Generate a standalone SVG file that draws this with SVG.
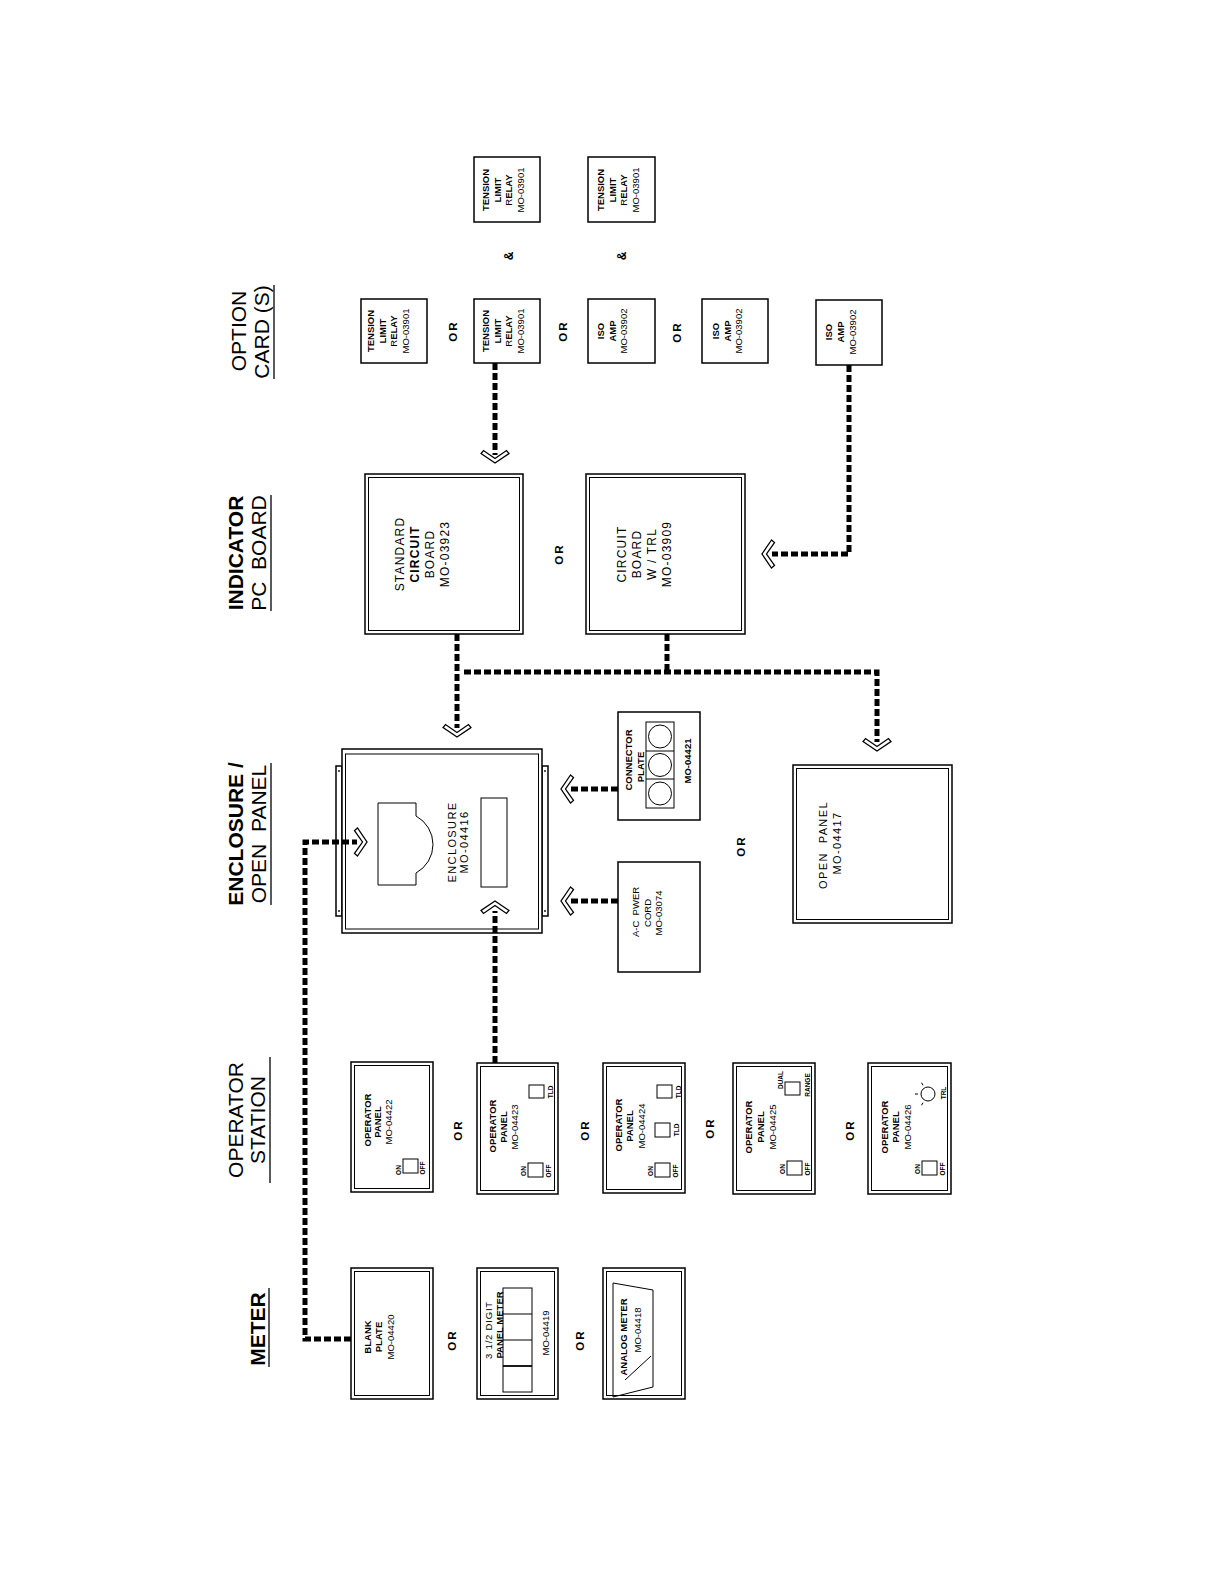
<svg xmlns="http://www.w3.org/2000/svg" width="1225" height="1585" viewBox="0 0 1225 1585">
<defs>
<style>
text{font-family:"Liberation Sans",Arial,sans-serif;fill:#000;text-anchor:middle;dominant-baseline:central}
.b{fill:#fff;stroke:#000;stroke-width:1.5}
.i{fill:none;stroke:#000;stroke-width:1}
.s{fill:#fff;stroke:#000;stroke-width:1}
.d{fill:none;stroke:#000;stroke-width:5;stroke-dasharray:7 3}
.ch{fill:#fff;stroke:#000;stroke-width:1.3;stroke-linejoin:miter}
.h{font-size:21px}
.hb{font-size:21px;font-weight:bold}
.c{font-size:9.5px}
.cb{font-size:9.5px;font-weight:bold}
.m{font-size:12px;letter-spacing:1.2px}
.e{font-size:11px;letter-spacing:1.4px}
.or{font-size:11.5px;font-weight:bold;letter-spacing:2px}
.amp{font-size:12px;font-weight:bold}
.sw{font-size:6.5px;font-weight:bold}
.ul{stroke:#000;stroke-width:1.3}
</style>
<path id="chev" d="M-14,-9.5 L0,0 L14,-9.5 L11.5,-12.5 L0,-4.5 L-11.5,-12.5 Z"/>
</defs>
<rect width="1225" height="1585" fill="#fff"/>

<g id="headers">
<text class="h" transform="translate(238,331) rotate(-90)">OPTION</text>
<text class="h" transform="translate(261,332) rotate(-90)">CARD (S)</text>
<line class="ul" x1="274" y1="285" x2="274" y2="379"/>
<text class="hb" transform="translate(235,553) rotate(-90)">INDICATOR</text>
<text class="h" transform="translate(258,553) rotate(-90)" xml:space="preserve">PC  BOARD</text>
<line class="ul" x1="271" y1="495" x2="271" y2="611"/>
<text class="hb" transform="translate(235,834) rotate(-90)">ENCLOSURE /</text>
<text class="h" transform="translate(258,834) rotate(-90)" xml:space="preserve">OPEN  PANEL</text>
<line class="ul" x1="271" y1="763" x2="271" y2="905"/>
<text class="h" transform="translate(235,1120) rotate(-90)">OPERATOR</text>
<text class="h" transform="translate(257,1120) rotate(-90)">STATION</text>
<line class="ul" x1="270" y1="1057" x2="270" y2="1183"/>
<text class="hb" transform="translate(257,1329) rotate(-90)">METER</text>
<line class="ul" x1="269" y1="1288" x2="269" y2="1367"/>
</g>

<g id="or-labels">
<text class="or" transform="translate(453,331) rotate(-90)">OR</text>
<text class="or" transform="translate(563,331) rotate(-90)">OR</text>
<text class="or" transform="translate(677,332) rotate(-90)">OR</text>
<text class="amp" transform="translate(509,256) rotate(-90)">&amp;</text>
<text class="amp" transform="translate(622,256) rotate(-90)">&amp;</text>
<text class="or" transform="translate(559,554) rotate(-90)">OR</text>
<text class="or" transform="translate(741,846) rotate(-90)">OR</text>
<text class="or" transform="translate(458,1130) rotate(-90)">OR</text>
<text class="or" transform="translate(585,1130) rotate(-90)">OR</text>
<text class="or" transform="translate(710,1128) rotate(-90)">OR</text>
<text class="or" transform="translate(850,1130) rotate(-90)">OR</text>
<text class="or" transform="translate(452,1340) rotate(-90)">OR</text>
<text class="or" transform="translate(580,1340) rotate(-90)">OR</text>
</g>

<g id="tlr-a">
<rect class="b" x="361" y="299" width="66" height="64"/>
<text class="cb" transform="translate(370,331) rotate(-90)">TENSION</text>
<text class="cb" transform="translate(382,331) rotate(-90)">LIMIT</text>
<text class="c" transform="translate(393,331) rotate(-90)">R<tspan font-weight="bold">ELAY</tspan></text>
<text class="c" transform="translate(405,331) rotate(-90)">MO-03901</text>
</g>
<g id="tlr-b">
<rect class="b" x="474" y="157" width="66" height="65"/>
<text class="cb" transform="translate(485,190) rotate(-90)">TENSION</text>
<text class="cb" transform="translate(497,190) rotate(-90)">LIMIT</text>
<text class="c" transform="translate(508,190) rotate(-90)">R<tspan font-weight="bold">ELAY</tspan></text>
<text class="c" transform="translate(520,190) rotate(-90)">MO-03901</text>
</g>
<g id="tlr-c">
<rect class="b" x="474" y="299" width="66" height="64"/>
<text class="cb" transform="translate(485,331) rotate(-90)">TENSION</text>
<text class="cb" transform="translate(497,331) rotate(-90)">LIMIT</text>
<text class="c" transform="translate(508,331) rotate(-90)">R<tspan font-weight="bold">ELAY</tspan></text>
<text class="c" transform="translate(520,331) rotate(-90)">MO-03901</text>
</g>
<g id="iso-d">
<rect class="b" x="588" y="299" width="67" height="64"/>
<text class="cb" transform="translate(600,331) rotate(-90)">ISO</text>
<text class="cb" transform="translate(612,331) rotate(-90)">AMP</text>
<text class="c" transform="translate(623,331) rotate(-90)">MO-03902</text>
</g>
<g id="tlr-e">
<rect class="b" x="588" y="157" width="67" height="65"/>
<text class="cb" transform="translate(600,190) rotate(-90)">TENSION</text>
<text class="cb" transform="translate(612,190) rotate(-90)">LIMIT</text>
<text class="c" transform="translate(623,190) rotate(-90)">R<tspan font-weight="bold">ELAY</tspan></text>
<text class="c" transform="translate(635,190) rotate(-90)">MO-03901</text>
</g>
<g id="iso-f">
<rect class="b" x="702" y="299" width="66" height="64"/>
<text class="cb" transform="translate(715,331) rotate(-90)">ISO</text>
<text class="cb" transform="translate(727,331) rotate(-90)">AMP</text>
<text class="c" transform="translate(738,331) rotate(-90)">MO-03902</text>
</g>
<g id="iso-g">
<rect class="b" x="816" y="300" width="66" height="65"/>
<text class="cb" transform="translate(828,332) rotate(-90)">ISO</text>
<text class="cb" transform="translate(840,332) rotate(-90)">AMP</text>
<text class="c" transform="translate(852,332) rotate(-90)">MO-03902</text>
</g>

<g id="std-board">
<rect class="b" x="365" y="474" width="158" height="160"/>
<rect class="i" x="368.5" y="477.5" width="151" height="153"/>
<text class="m" transform="translate(400,554) rotate(-90)">STANDARD</text>
<text class="m" transform="translate(415,554) rotate(-90)" font-weight="bold">CIRCUIT</text>
<text class="m" transform="translate(430,554) rotate(-90)">BOARD</text>
<text class="m" transform="translate(445,554) rotate(-90)">MO-03923</text>
</g>
<g id="trl-board">
<rect class="b" x="586" y="474" width="159" height="160"/>
<rect class="i" x="589.5" y="477.5" width="152" height="153"/>
<text class="m" transform="translate(622,554) rotate(-90)">CIRCUIT</text>
<text class="m" transform="translate(637,554) rotate(-90)">BOARD</text>
<text class="m" transform="translate(652,554) rotate(-90)">W / TRL</text>
<text class="m" transform="translate(667,554) rotate(-90)">MO-03909</text>
</g>

<g id="enclosure">
<rect class="b" x="336" y="766" width="6" height="150"/>
<rect class="b" x="542" y="766" width="6" height="150"/>
<circle cx="339" cy="771" r="0.9"/><circle cx="339" cy="911" r="0.9"/>
<circle cx="545" cy="771" r="0.9"/><circle cx="545" cy="911" r="0.9"/>
<rect class="b" x="342" y="749" width="200" height="184"/>
<rect class="i" x="345.5" y="754" width="193" height="175"/>
<path class="i" d="M378,803 H416 V816 A32.4,32.4 0 0 1 416,873 V885 H378 Z"/>
<rect class="i" x="481" y="798" width="26" height="89"/>
<text class="e" transform="translate(452,842) rotate(-90)">ENCLOSURE</text>
<text class="e" transform="translate(464,842) rotate(-90)">MO-04416</text>
</g>

<g id="connector-plate">
<rect class="b" x="618" y="712" width="82" height="108"/>
<rect class="i" x="646" y="722" width="28" height="86"/>
<line class="i" x1="646" y1="751" x2="674" y2="751"/>
<line class="i" x1="646" y1="779" x2="674" y2="779"/>
<circle class="i" cx="660" cy="736.5" r="11.5"/>
<circle class="i" cx="660" cy="765" r="11.5"/>
<circle class="i" cx="660" cy="793.5" r="11.5"/>
<text class="cb" transform="translate(628,760) rotate(-90)" font-size="8.5">CONNECTOR</text>
<text class="cb" transform="translate(640,767) rotate(-90)" font-size="8.5">PLATE</text>
<text class="cb" transform="translate(687,761) rotate(-90)" font-size="8.5">MO-04421</text>
</g>

<g id="ac-cord">
<rect class="b" x="618" y="862" width="82" height="110"/>
<text class="c" transform="translate(635,912) rotate(-90)" xml:space="preserve">A-C  PWER</text>
<text class="c" transform="translate(647,913) rotate(-90)">CORD</text>
<text class="c" transform="translate(658,913) rotate(-90)">MO-03074</text>
</g>

<g id="open-panel">
<rect class="b" x="793" y="765" width="159" height="158"/>
<rect class="i" x="796.5" y="768.5" width="152" height="151"/>
<text class="e" transform="translate(823,845) rotate(-90)" xml:space="preserve">OPEN  PANEL</text>
<text class="e" transform="translate(837,843) rotate(-90)">MO-04417</text>
</g>

<g id="op-04422">
<rect class="b" x="351" y="1062" width="82" height="130"/>
<rect class="i" x="354.5" y="1065.5" width="75" height="123"/>
<text class="cb" transform="translate(367,1120) rotate(-90)">OPERATOR</text>
<text class="cb" transform="translate(377,1122) rotate(-90)">PANEL</text>
<text class="c" transform="translate(388,1122) rotate(-90)">MO-04422</text>
<rect class="s" x="403" y="1159" width="15" height="14"/>
<text class="sw" transform="translate(398,1170) rotate(-90)">ON</text>
<text class="sw" transform="translate(422,1168) rotate(-90)">OFF</text>
</g>
<g id="op-04423">
<rect class="b" x="477" y="1063" width="81" height="131"/>
<rect class="i" x="480.5" y="1066.5" width="74" height="124"/>
<text class="cb" transform="translate(492,1126) rotate(-90)">OPERATOR</text>
<text class="cb" transform="translate(503,1127) rotate(-90)">PANEL</text>
<text class="c" transform="translate(514,1127) rotate(-90)">MO-04423</text>
<rect class="s" x="528" y="1163" width="15" height="14"/>
<text class="sw" transform="translate(523,1171) rotate(-90)">ON</text>
<text class="sw" transform="translate(548,1171) rotate(-90)">OFF</text>
<rect class="s" x="529" y="1085" width="15" height="13"/>
<text class="sw" transform="translate(550,1092) rotate(-90)">TLD</text>
</g>
<g id="op-04424">
<rect class="b" x="603" y="1063" width="82" height="130"/>
<rect class="i" x="606.5" y="1066.5" width="75" height="123"/>
<text class="cb" transform="translate(618,1125) rotate(-90)">OPERATOR</text>
<text class="cb" transform="translate(629,1126) rotate(-90)">PANEL</text>
<text class="c" transform="translate(641,1126) rotate(-90)">MO-04424</text>
<rect class="s" x="655" y="1163" width="15" height="14"/>
<text class="sw" transform="translate(650,1171) rotate(-90)">ON</text>
<text class="sw" transform="translate(675,1171) rotate(-90)">OFF</text>
<rect class="s" x="655" y="1123" width="15" height="14"/>
<text class="sw" transform="translate(676,1130) rotate(-90)">TLD</text>
<rect class="s" x="657" y="1085" width="15" height="13"/>
<text class="sw" transform="translate(678,1092) rotate(-90)">TLD</text>
</g>
<g id="op-04425">
<rect class="b" x="733" y="1063" width="82" height="131"/>
<rect class="i" x="736.5" y="1066.5" width="75" height="124"/>
<text class="cb" transform="translate(748,1127) rotate(-90)">OPERATOR</text>
<text class="cb" transform="translate(760,1127) rotate(-90)">PANEL</text>
<text class="c" transform="translate(772,1127) rotate(-90)">MO-04425</text>
<rect class="s" x="787" y="1161" width="15" height="14"/>
<text class="sw" transform="translate(782,1169) rotate(-90)">ON</text>
<text class="sw" transform="translate(807,1169) rotate(-90)">OFF</text>
<rect class="s" x="785" y="1082" width="15" height="13"/>
<text class="sw" transform="translate(780,1080) rotate(-90)">DUAL</text>
<text class="sw" transform="translate(807,1085) rotate(-90)">RANGE</text>
</g>
<g id="op-04426">
<rect class="b" x="868" y="1063" width="83" height="131"/>
<rect class="i" x="871.5" y="1066.5" width="76" height="124"/>
<text class="cb" transform="translate(884,1127) rotate(-90)">OPERATOR</text>
<text class="cb" transform="translate(895,1127) rotate(-90)">PANEL</text>
<text class="c" transform="translate(907,1127) rotate(-90)">MO-04426</text>
<rect class="s" x="922" y="1161" width="15" height="14"/>
<text class="sw" transform="translate(917,1169) rotate(-90)">ON</text>
<text class="sw" transform="translate(942,1169) rotate(-90)">OFF</text>
<circle class="i" cx="928" cy="1094" r="7"/>
<path class="i" d="M918,1094 H915 M923,1085.3 L921.5,1082.7 M923,1102.7 L921.5,1105.3"/>
<text class="sw" transform="translate(943,1093) rotate(-90)">TRL</text>
</g>

<g id="meter-blank">
<rect class="b" x="351" y="1268" width="82" height="131"/>
<rect class="i" x="354.5" y="1271.5" width="75" height="124"/>
<text class="cb" transform="translate(367,1337) rotate(-90)">BLANK</text>
<text class="cb" transform="translate(378,1337) rotate(-90)">PLATE</text>
<text class="c" transform="translate(390,1337) rotate(-90)">MO-04420</text>
</g>
<g id="meter-digit">
<rect class="b" x="477" y="1268" width="81" height="131"/>
<rect class="i" x="480.5" y="1271.5" width="74" height="124"/>
<rect class="i" x="503" y="1288" width="29" height="104"/>
<line class="i" x1="503" y1="1314" x2="532" y2="1314"/>
<line class="i" x1="503" y1="1340" x2="532" y2="1340"/>
<line x1="503" y1="1366" x2="532" y2="1366" stroke="#000" stroke-width="1.8"/>
<text class="c" transform="translate(488,1330) rotate(-90)" letter-spacing="0.8">3 1/2 DIGIT</text>
<text class="cb" transform="translate(499,1325) rotate(-90)">PANEL METER</text>
<text class="c" transform="translate(545,1333) rotate(-90)">MO-04419</text>
</g>
<g id="meter-analog">
<rect class="b" x="603" y="1268" width="82" height="131"/>
<rect class="i" x="606.5" y="1271.5" width="75" height="124"/>
<path class="i" d="M613,1283 L653,1290 V1387 L613,1397 Z"/>
<line class="i" x1="651" y1="1356" x2="625" y2="1380"/>
<text class="cb" transform="translate(623,1337) rotate(-90)">ANALOG METER</text>
<text class="c" transform="translate(637,1330) rotate(-90)">MO-04418</text>
</g>

<g id="connectors">
<path class="d" d="M495,363 V455"/>
<use href="#chev" class="ch" transform="translate(495,463)"/>
<path class="d" d="M849,365 V554 H772"/>
<use href="#chev" class="ch" transform="translate(762,554) rotate(90)"/>
<path class="d" d="M457,634 V728"/>
<use href="#chev" class="ch" transform="translate(457,737)"/>
<path class="d" d="M667,634 V672"/>
<path class="d" d="M464,672 H877 V742"/>
<use href="#chev" class="ch" transform="translate(877,751)"/>
<path class="d" d="M618,789 H571"/>
<use href="#chev" class="ch" transform="translate(561,789) rotate(90)"/>
<path class="d" d="M618,901 H571"/>
<use href="#chev" class="ch" transform="translate(561,901) rotate(90)"/>
<path class="d" d="M495,1063 V911"/>
<use href="#chev" class="ch" transform="translate(495,901) rotate(180)"/>
<path class="d" d="M351,1339 H305 V842 H357"/>
<use href="#chev" class="ch" transform="translate(367,842) rotate(-90)"/>
</g>
</svg>
